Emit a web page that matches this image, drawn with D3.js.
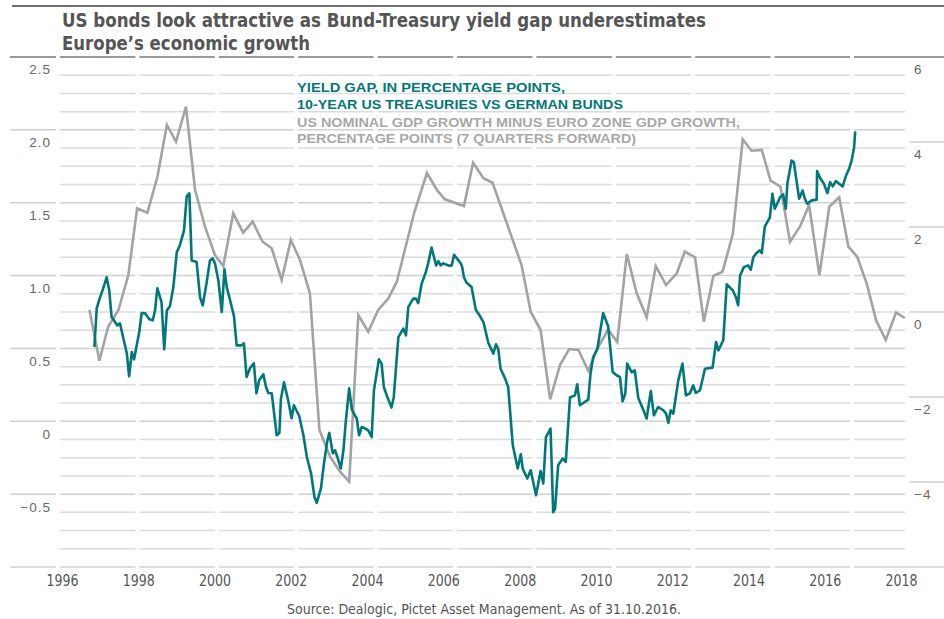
<!DOCTYPE html>
<html><head><meta charset="utf-8">
<script src="https://cdn.jsdelivr.net/npm/d3@7"></script>
<style>
html,body{margin:0;padding:0;background:#fff;}
svg{display:block;}
</style></head>
<body>
<svg id="chart" width="944" height="619"></svg>
<script>
// ---------- DATA ----------
const titleLines = ["US bonds look attractive as Bund-Treasury yield gap underestimates", "Europe\u2019s economic growth"];
const legendGap = ["YIELD GAP, IN PERCENTAGE POINTS,", "10-YEAR US TREASURIES VS GERMAN BUNDS"];
const legendGdp = ["US NOMINAL GDP GROWTH MINUS EURO ZONE GDP GROWTH,", "PERCENTAGE POINTS (7 QUARTERS FORWARD)"];
const sourceText = "Source: Dealogic, Pictet Asset Management. As of 31.10.2016.";

const yearTicks = [1996, 1998, 2000, 2002, 2004, 2006, 2008, 2010, 2012, 2014, 2016, 2018];
const leftTicks = [2.5, 2.0, 1.5, 1.0, 0.5, 0, -0.5];
const leftTickLabels = ["2.5", "2.0", "1.5", "1.0", "0.5", "0", "\u22120.5"];
const rightTicks = [6, 4, 2, 0, -2, -4];
const rightTickLabels = ["6", "4", "2", "0", "\u22122", "\u22124"];

// Yield gap (left axis), decimal year
const yieldGapDates = [1996.85,1996.91,1996.98,1997.08,1997.17,1997.24,1997.30,1997.39,1997.45,1997.52,1997.59,1997.70,1997.76,1997.83,1997.89,
1998.02,1998.09,1998.18,1998.29,1998.38,1998.44,1998.50,1998.61,1998.68,1998.75,1998.83,1998.92,1999.01,1999.09,1999.20,1999.27,1999.34,1999.40,
1999.53,1999.62,1999.69,1999.79,1999.88,1999.95,2000.01,2000.10,2000.19,2000.26,2000.32,2000.42,2000.51,2000.58,2000.71,2000.77,2000.84,2000.93,
2001.03,2001.10,2001.17,2001.28,2001.35,2001.41,2001.50,2001.63,2001.70,2001.74,2001.82,2001.93,2002.02,2002.08,2002.22,2002.33,2002.42,2002.53,
2002.62,2002.68,2002.79,2002.87,2002.96,2003.01,2003.10,2003.16,2003.22,2003.31,2003.38,2003.44,2003.53,2003.60,2003.68,2003.73,2003.79,2003.86,
2003.94,2004.03,2004.12,2004.18,2004.31,2004.38,2004.44,2004.53,2004.64,2004.70,2004.82,2004.95,2005.02,2005.08,2005.21,2005.28,2005.34,2005.43,
2005.54,2005.60,2005.69,2005.81,2005.87,2005.93,2006.00,2006.15,2006.22,2006.28,2006.44,2006.49,2006.54,2006.61,2006.74,2006.85,2006.96,2007.05,
2007.18,2007.31,2007.38,2007.44,2007.50,2007.62,2007.70,2007.82,2007.95,2008.03,2008.08,2008.20,2008.29,2008.43,2008.55,2008.62,2008.69,2008.81,
2008.88,2008.93,2009.01,2009.13,2009.21,2009.32,2009.45,2009.51,2009.58,2009.80,2009.86,2009.93,2010.04,2010.19,2010.32,2010.44,2010.54,2010.63,
2010.70,2010.77,2010.82,2010.94,2011.02,2011.11,2011.24,2011.33,2011.44,2011.52,2011.63,2011.77,2011.84,2011.90,2011.96,2012.03,2012.16,2012.27,
2012.36,2012.47,2012.55,2012.62,2012.73,2012.86,2013.06,2013.15,2013.21,2013.34,2013.43,2013.59,2013.67,2013.73,2013.78,2013.88,2013.99,2014.06,
2014.13,2014.21,2014.30,2014.35,2014.43,2014.56,2014.63,2014.69,2014.83,2014.91,2014.98,2015.02,2015.13,2015.19,2015.33,2015.42,2015.48,2015.54,
2015.66,2015.79,2015.80,2015.89,2015.98,2016.07,2016.14,2016.21,2016.29,2016.38,2016.47,2016.56,2016.64,2016.71,2016.77,2016.80];
const yieldGapValues = [0.51,0.775,0.837,0.912,0.988,0.898,0.715,0.681,0.658,0.672,0.590,0.466,0.309,0.475,0.425,
0.604,0.743,0.741,0.70,0.693,0.761,0.912,0.818,0.494,0.761,0.789,0.921,1.161,1.207,1.310,1.543,1.564,1.104,
1.093,0.850,0.796,0.947,1.104,1.118,1.084,0.967,0.750,1.043,0.921,0.818,0.720,0.521,0.521,0.535,0.304,0.364,
0.398,0.192,0.281,0.322,0.235,0.194,0.192,-0.096,-0.080,0.151,0.267,0.144,0.021,0.110,0.036,-0.096,-0.245,-0.357,
-0.519,-0.56,-0.460,-0.288,-0.130,-0.080,-0.219,-0.199,-0.245,-0.324,-0.199,-0.005,0.226,0.082,0.041,0.019,-0.096,-0.039,
-0.048,-0.062,-0.108,0.213,0.425,0.396,0.235,0.167,0.094,0.167,0.578,0.636,0.590,0.784,0.842,0.842,0.811,0.944,
1.024,1.082,1.193,1.070,1.099,1.070,1.084,1.067,1.070,1.142,1.091,1.063,0.988,0.951,0.921,0.766,0.722,0.681,
0.537,0.464,0.528,0.496,0.361,0.293,0.235,-0.165,-0.324,-0.226,-0.324,-0.393,-0.336,-0.508,-0.341,-0.427,-0.108,-0.050,
-0.624,-0.599,-0.302,-0.256,-0.279,0.163,0.178,0.254,0.110,0.149,0.331,0.441,0.499,0.743,0.652,0.338,0.316,0.304,
0.137,0.190,0.396,0.336,0.350,0.161,0.080,0.019,0.208,0.041,0.098,0.075,0.053,-0.012,0.075,0.053,0.281,0.396,
0.178,0.194,0.247,0.194,0.213,0.361,0.368,0.544,0.487,0.556,0.940,0.898,0.853,0.796,1.001,1.058,1.070,1.040,
1.127,1.154,1.173,1.154,1.337,1.397,1.562,1.459,1.538,1.557,1.459,1.630,1.790,1.778,1.527,1.584,1.527,1.493,
1.516,1.521,1.717,1.665,1.630,1.566,1.641,1.612,1.648,1.630,1.612,1.687,1.733,1.795,1.881,1.989];

// US minus euro zone nominal GDP growth, 7 quarters forward (right axis)
const gdpGapDates = [1996.72,1996.98,1997.21,1997.48,1997.74,1997.97,1998.24,1998.50,1998.75,1998.99,1999.25,1999.49,1999.75,
2000.01,2000.23,2000.49,2000.75,2001.00,2001.26,2001.50,2001.76,2002.00,2002.24,2002.50,2002.75,2003.03,2003.29,2003.53,2003.77,
2004.03,2004.29,2004.56,2004.78,2004.99,2005.24,2005.57,2005.83,2006.04,2006.54,2006.78,2007.05,2007.29,2008.05,2008.29,2008.55,
2008.80,2009.06,2009.30,2009.54,2009.80,2010.06,2010.32,2010.56,2010.81,2011.07,2011.33,2011.57,2011.84,2012.12,2012.33,2012.60,
2012.83,2013.08,2013.32,2013.59,2013.85,2014.08,2014.35,2014.58,2014.84,2015.09,2015.35,2015.59,2015.86,2016.12,2016.38,2016.62,
2016.85,2017.10,2017.35,2017.60,2017.87,2018.10];
const gdpGapValues = [0.05,-1.146,-0.346,0.047,0.871,2.440,2.336,3.169,4.400,4.007,4.831,2.871,2.007,
1.341,1.082,2.322,1.866,2.125,1.654,1.499,0.753,1.694,1.224,0.440,-2.776,-3.405,-3.758,-3.993,-0.071,
-0.464,0.047,0.322,0.713,1.459,2.353,3.271,2.871,2.652,2.494,3.513,3.146,3.042,1.106,0.007,-0.424,
-2.054,-1.247,-0.871,-0.894,-1.381,-0.824,-0.412,-0.706,1.365,0.440,-0.125,1.082,0.635,0.911,1.419,1.287,
-0.228,0.847,0.948,1.835,4.064,3.795,3.812,3.089,2.948,1.654,2.007,2.518,0.871,2.478,2.699,1.536,
1.301,0.675,-0.200,-0.659,-0.012,-0.141];

// ---------- STYLE / LAYOUT ----------
const W = 944, H = 619;
const plotTop = 57, plotBottom = 567, plotLeft = 60, plotRight = 905;
const teal = "#00787a", grayLine = "#a3a3a3";
const condensed = "'Liberation Sans Narrow','DejaVu Sans Condensed','Roboto Condensed',sans-serif";
const regular = "'Liberation Sans','Roboto',sans-serif";

const svg = d3.select("#chart");

const x = d3.scaleLinear().domain([1996, 2018]).range([62, 901]);
const yL = d3.scaleLinear().domain([-1, 2.5]).range([plotBottom, plotTop]);
const yR = d3.scaleLinear().domain([-6, 6]).range([plotBottom, plotTop]);

// top rule
svg.append("line").attr("x1", 12).attr("x2", W).attr("y1", 6).attr("y2", 6)
  .attr("stroke", "#707070").attr("stroke-width", 2);

// title
const title = svg.append("text").attr("font-family", condensed).attr("font-weight", "bold")
  .attr("font-size", 20).attr("fill", "#555");
title.append("tspan").attr("x", 62).attr("y", 27).attr("textLength", 644).attr("lengthAdjust", "spacingAndGlyphs").text(titleLines[0]);
title.append("tspan").attr("x", 62).attr("y", 50).attr("textLength", 248).attr("lengthAdjust", "spacingAndGlyphs").text(titleLines[1]);

// grid columns with gaps
const gapCenters = d3.range(11).map(k => 58 + k * 79.4);
const segs = [];
for (let i = 0; i < gapCenters.length; i++) {
  const a = gapCenters[i] + 2;
  const b = i < gapCenters.length - 1 ? gapCenters[i + 1] - 2 : plotRight;
  segs.push([a, b]);
}
const gridVals = d3.range(-1, 2.5001, 0.125);
const grid = svg.append("g");
gridVals.forEach(v => {
  const yy = yL(v);
  const isTop = Math.abs(v - 2.5) < 1e-6;
  const isMajor = Math.abs(v * 2 - Math.round(v * 2)) < 1e-6;
  segs.forEach(s => {
    grid.append("line").attr("x1", s[0]).attr("x2", s[1]).attr("y1", yy).attr("y2", yy)
      .attr("stroke", isTop ? "#9a9a9a" : (isMajor ? "#d0d0d0" : "#dcdcdc"))
      .attr("stroke-width", isTop ? 2 : 1.5);
  });
  if (isMajor) {
    grid.append("line").attr("x1", 10).attr("x2", 56).attr("y1", yy).attr("y2", yy)
      .attr("stroke", isTop ? "#9a9a9a" : "#d0d0d0").attr("stroke-width", isTop ? 2 : 1.5);
  }
});
// right margin majors
[6, 4, 2, 0, -2, -4, -6].forEach(v => {
  const yy = yR(v);
  grid.append("line").attr("x1", v === 6 || v === -6 ? 905 : 909).attr("x2", W).attr("y1", yy).attr("y2", yy)
    .attr("stroke", v === 6 ? "#9a9a9a" : "#d0d0d0").attr("stroke-width", v === 6 ? 2 : 1.5);
});

// axes
const axL = d3.axisLeft(yL).tickValues(leftTicks).tickSize(0)
  .tickFormat((d, i) => leftTickLabels[i]);
const gL = svg.append("g").attr("transform", "translate(54,0)").call(axL);
gL.select(".domain").remove();
gL.selectAll("text").attr("dy", "1.25em").attr("font-family", regular).attr("font-size", 13.5)
  .attr("letter-spacing", "1px").attr("fill", "#666");

const axR = d3.axisRight(yR).tickValues(rightTicks).tickSize(0)
  .tickFormat((d, i) => rightTickLabels[i]);
const gR = svg.append("g").attr("transform", "translate(911,0)").call(axR);
gR.select(".domain").remove();
gR.selectAll("text").attr("dy", "1.25em").attr("font-family", regular).attr("font-size", 13.5)
  .attr("letter-spacing", "1px").attr("fill", "#666");

const axB = d3.axisBottom(x).tickValues(yearTicks).tickSize(0).tickFormat(d3.format("d"));
const gB = svg.append("g").attr("transform", "translate(0,572)").call(axB);
gB.select(".domain").remove();
gB.selectAll("text").attr("font-family", condensed).attr("font-size", 15).attr("fill", "#555").attr("dy", "0.71em")
  .attr("textLength", 32).attr("lengthAdjust", "spacingAndGlyphs");

// legend
const leg = svg.append("g").attr("font-family", regular).attr("font-weight", "bold").attr("font-size", 12.5);
const legendRows = [
  {t: legendGap[0], y: 92, c: teal, w: 268},
  {t: legendGap[1], y: 109, c: teal, w: 326},
  {t: legendGdp[0], y: 127, c: "#a8a8a8", w: 443},
  {t: legendGdp[1], y: 143, c: "#a8a8a8", w: 339}
];
legendRows.forEach(r => {
  leg.append("text").attr("x", 297).attr("y", r.y).attr("fill", r.c)
    .attr("textLength", r.w).attr("lengthAdjust", "spacingAndGlyphs").text(r.t);
});

// lines
const gdpData = gdpGapDates.map((d, i) => [d, gdpGapValues[i]]);
const gapData = yieldGapDates.map((d, i) => [d, yieldGapValues[i]]);

svg.append("path").datum(gdpData)
  .attr("d", d3.line().x(d => x(d[0])).y(d => yR(d[1])))
  .attr("fill", "none").attr("stroke", grayLine).attr("stroke-width", 2.6).attr("stroke-linejoin", "miter");

svg.append("path").datum(gapData)
  .attr("d", d3.line().x(d => x(d[0])).y(d => yL(d[1])))
  .attr("fill", "none").attr("stroke", teal).attr("stroke-width", 2.6).attr("stroke-linejoin", "round");

// source
svg.append("text").attr("x", 484).attr("y", 614).attr("text-anchor", "middle")
  .attr("font-family", condensed).attr("font-size", 14).attr("fill", "#555")
  .attr("textLength", 394).attr("lengthAdjust", "spacingAndGlyphs").text(sourceText);
</script>
</body></html>
